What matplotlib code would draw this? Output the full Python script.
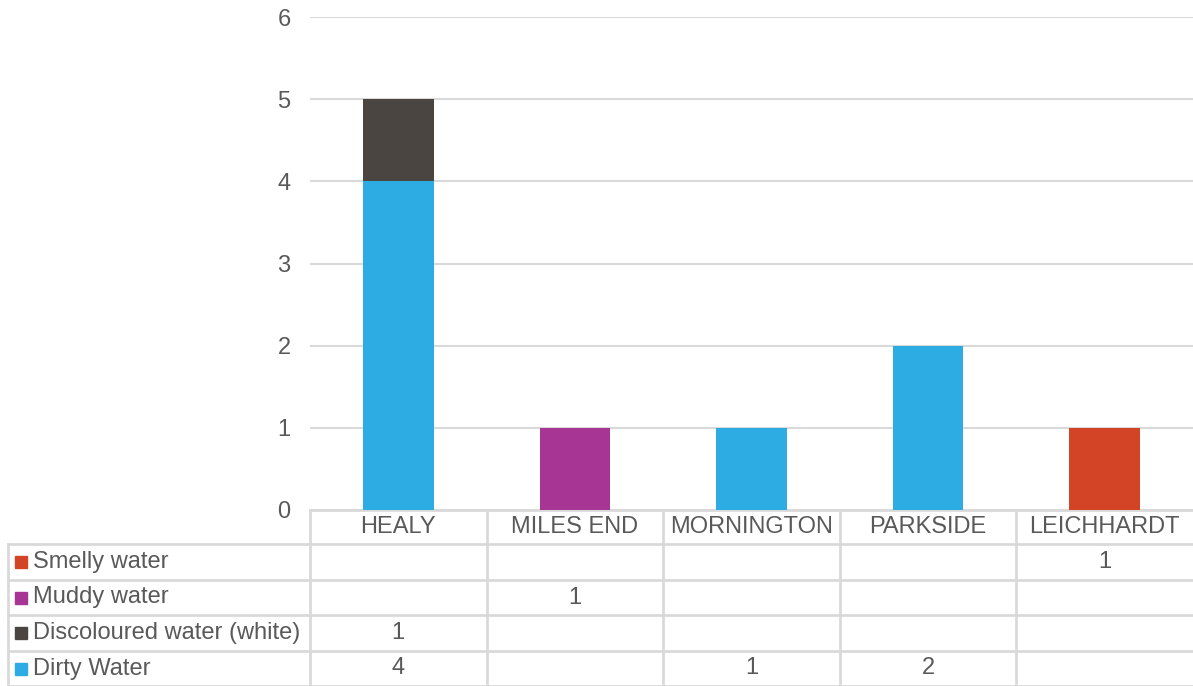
import matplotlib.pyplot as plt
import numpy as np
from matplotlib.transforms import blended_transform_factory

plt.rcParams['font.family'] = ['Liberation Sans', 'DejaVu Sans']

# data
suburbs = ['HEALY', 'MILES END', 'MORNINGTON', 'PARKSIDE', 'LEICHHARDT']
series = ['Dirty Water', 'Discoloured water (white)', 'Muddy water', 'Smelly water']
dirty = [4, 0, 1, 2, 0]
discoloured = [1, 0, 0, 0, 0]
muddy = [0, 1, 0, 0, 0]
smelly = [0, 0, 0, 0, 1]
colors = ['#2DABE3', '#4A4541', '#A63593', '#D34426']

values = [dirty, discoloured, muddy, smelly]
txt = '#595959'
grid = '#D9D9D9'
fs = 17

W, H = 1193, 686
fig = plt.figure(figsize=(W / 100, H / 100), dpi=100)
ax = fig.add_axes([310 / W, (H - 510) / H, (W - 310) / W, (510 - 17) / H])

x = np.arange(len(suburbs))
bottom = np.zeros(len(suburbs))
for vals, c in zip(values, colors):
    ax.bar(x, vals, 0.4, bottom=bottom, color=c, zorder=3)
    bottom += np.array(vals)

ax.set_xlim(-0.5, len(suburbs) - 0.5)
ax.set_ylim(0, 6)
ax.set_yticks(range(7))
ax.yaxis.grid(True, color=grid, lw=1.5, zorder=0)
for s in ax.spines.values():
    s.set_visible(False)
ax.tick_params(axis='y', length=0, pad=14, labelsize=fs, labelcolor=txt)
ax.set_xticks([])

# data table below the axes
tr = blended_transform_factory(ax.transData, fig.transFigure)
def fy(py):
    return 1 - py / H

row_edges = [510, 544, 580, 615, 651, 686]
lkw = dict(color=grid, lw=2, transform=tr, clip_on=False)
left = -0.5 - (310 - 8) / (883 / len(suburbs))
# header top line and rows
ax.plot([-0.5, len(suburbs) - 0.5], [fy(510)] * 2, **lkw)
for py in row_edges[1:]:
    ax.plot([left, len(suburbs) - 0.5], [fy(py)] * 2, **lkw)
# vertical lines
for i in range(len(suburbs)):
    ax.plot([i - 0.5] * 2, [fy(510), fy(686)], **lkw)
ax.plot([left] * 2, [fy(544), fy(686)], **lkw)

# header labels
for i, name in enumerate(suburbs):
    ax.text(i, fy(527), name, transform=tr, ha='center', va='center',
            fontsize=fs, color=txt)

# rows: top to bottom, reversed stacking order
rows = list(zip(series, values, colors))[::-1]
for r, (name, vals, c) in enumerate(rows):
    yc = fy((row_edges[r + 1] + row_edges[r + 2]) / 2)
    fig.patches.append(plt.Rectangle((15 / W, yc - 6 / H), 12 / W, 12 / H,
                                     color=c, transform=fig.transFigure))
    fig.text(33 / W, yc, name, ha='left', va='center', fontsize=fs, color=txt)
    for i, v in enumerate(vals):
        if v:
            ax.text(i, yc, str(v), transform=tr, ha='center', va='center',
                    fontsize=fs, color=txt)

fig.savefig('out.png', dpi=100)
